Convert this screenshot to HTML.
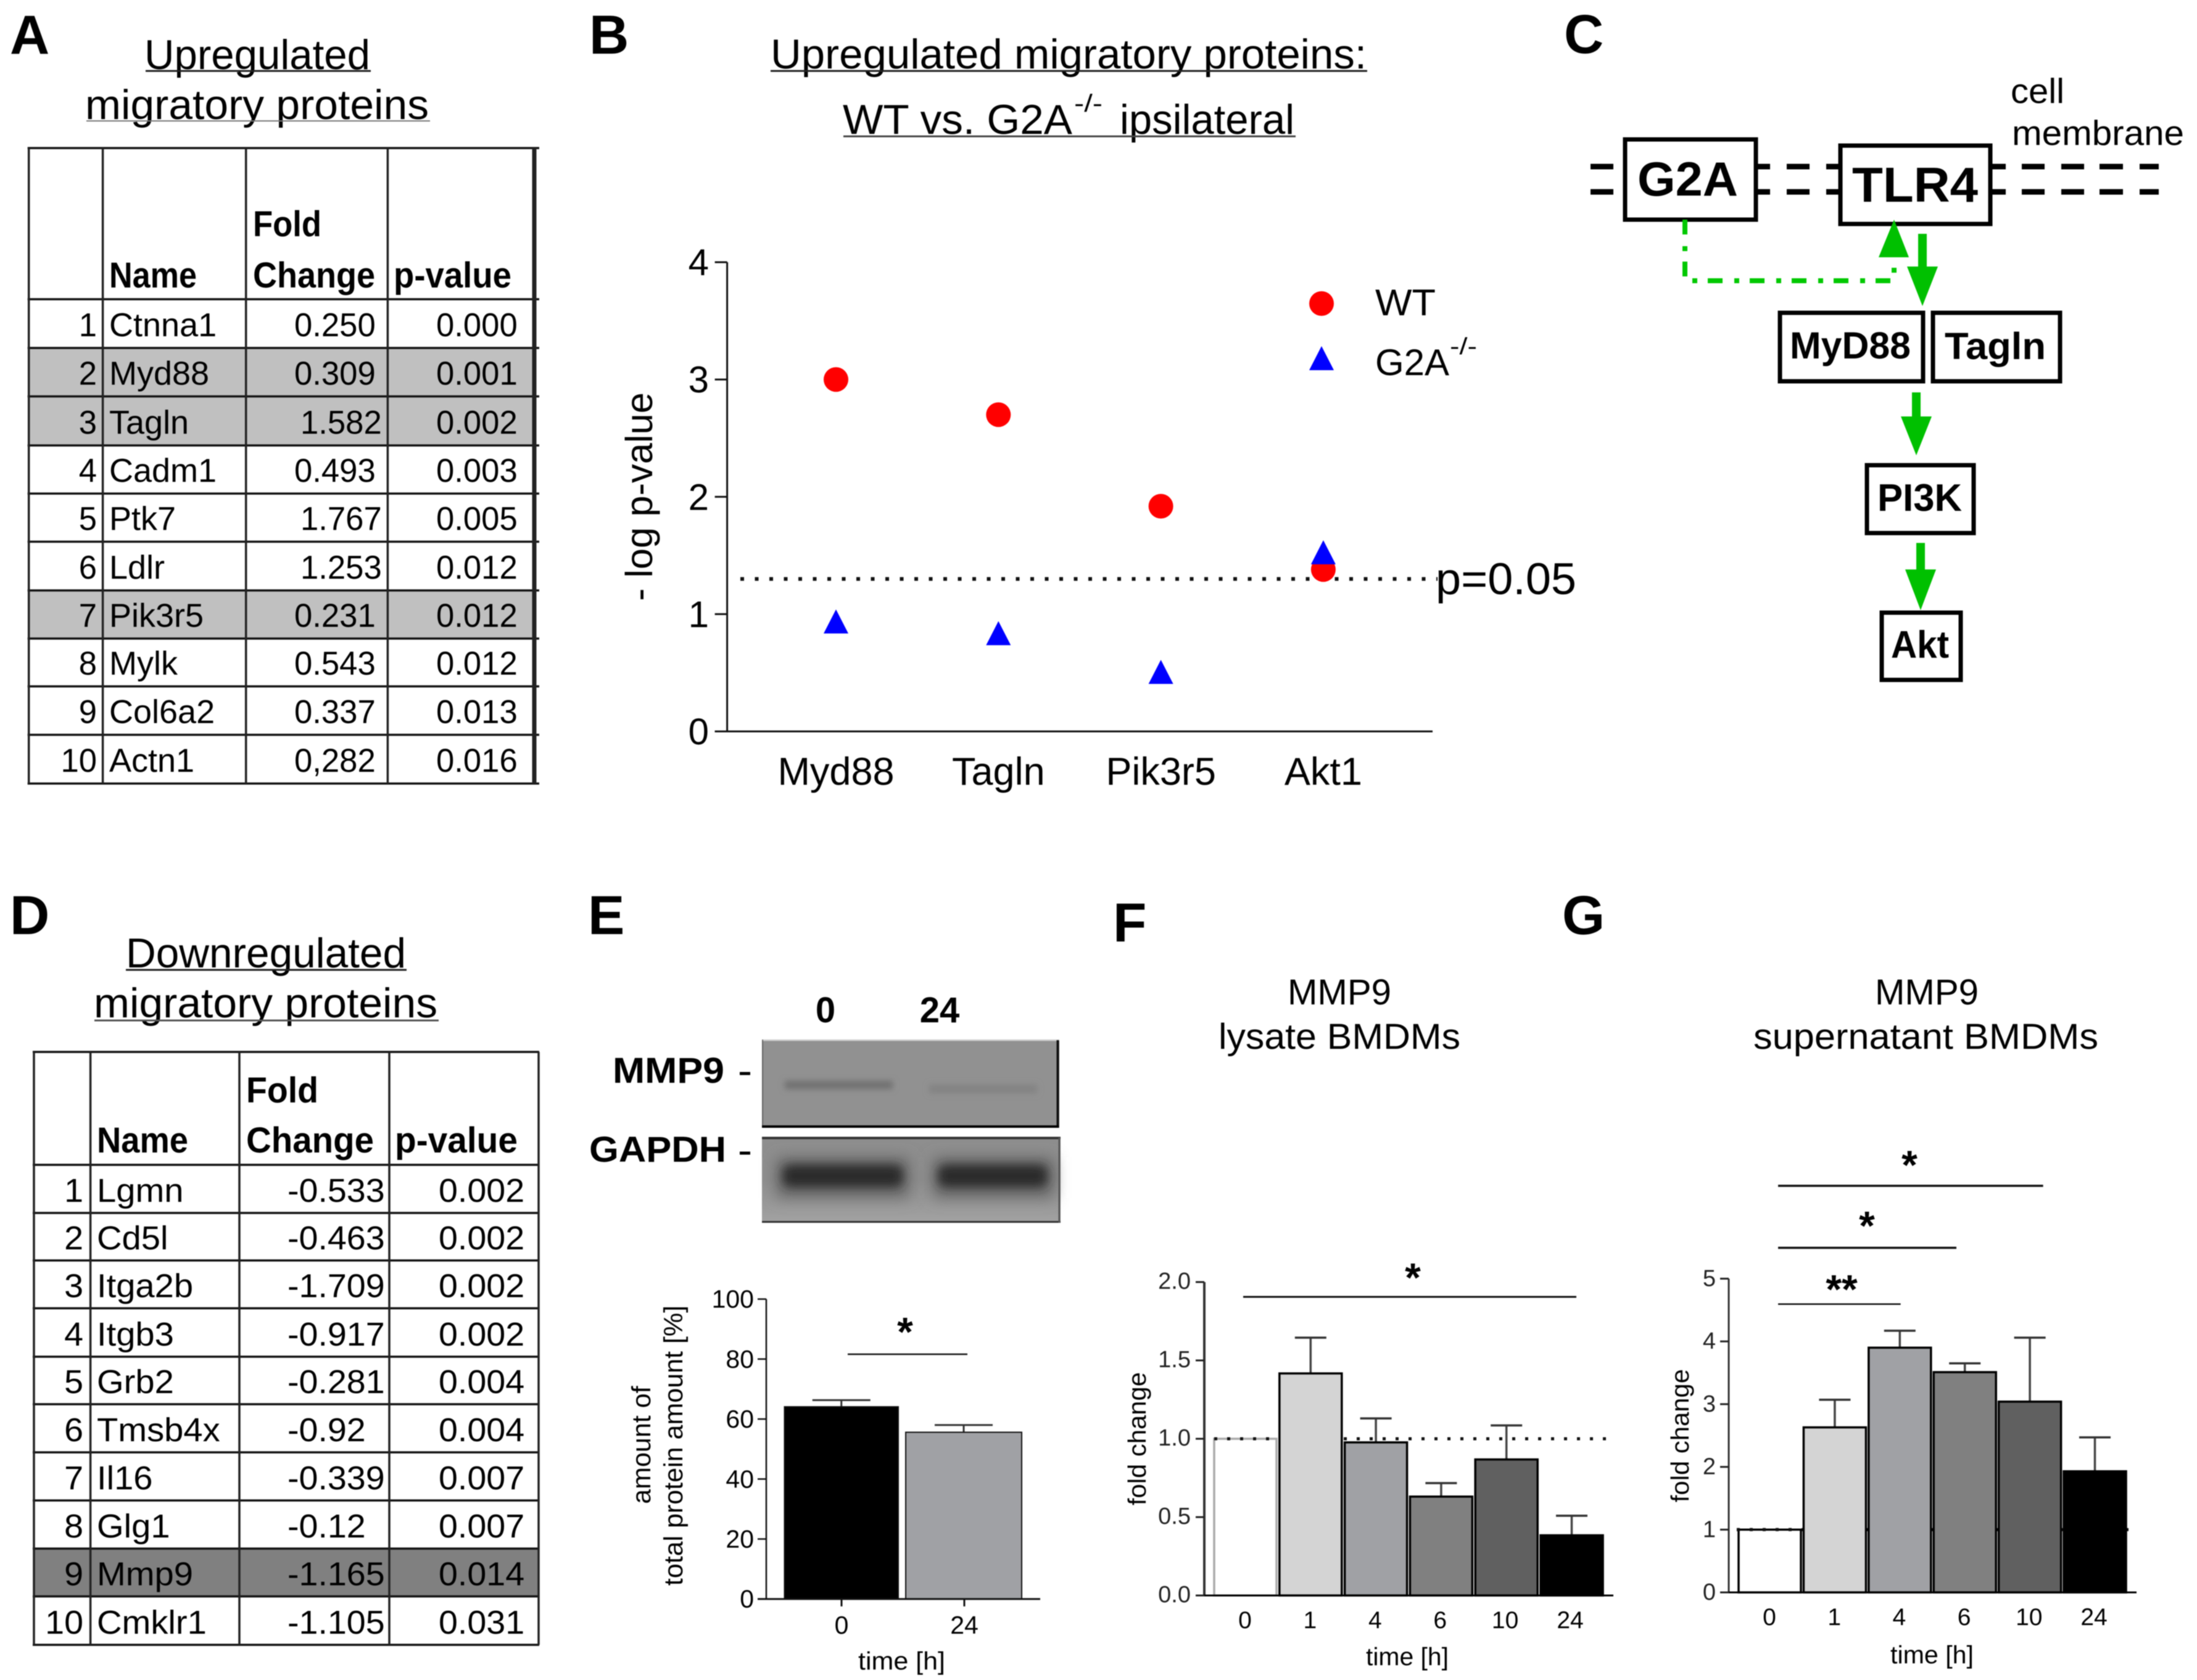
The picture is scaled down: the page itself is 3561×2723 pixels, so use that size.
<!DOCTYPE html>
<html lang="en">
<head>
<meta charset="utf-8">
<title>Migratory proteins figure</title>
<style>
html,body{margin:0;padding:0;background:#fff;width:3561px;height:2723px;overflow:hidden}
svg{display:block;filter:blur(0.8px)}
text{font-family:"Liberation Sans",Arial,sans-serif}
</style>
</head>
<body>
<svg id="fig" xmlns="http://www.w3.org/2000/svg" width="3561" height="2723" viewBox="0 0 3561 2723">
  <defs>
    <filter id="soft-3" x="-20%" y="-200%" width="140%" height="500%"><feGaussianBlur stdDeviation="5"/></filter>
    <filter id="soft-8" x="-20%" y="-100%" width="140%" height="300%"><feGaussianBlur stdDeviation="8"/></filter>
    <filter id="soft-12" x="-20%" y="-100%" width="140%" height="300%"><feGaussianBlur stdDeviation="12"/></filter>
    <linearGradient id="blot-bg-2" x1="0" y1="0" x2="0" y2="1">
      <stop offset="0" stop-color="#8e8e8e"/><stop offset="0.5" stop-color="#8e8e8e"/><stop offset="1" stop-color="#a2a2a2"/>
    </linearGradient>
  </defs>
  <rect width="3561" height="2723" fill="#fff"/>
  <g id="panel-a"></g>
  <g id="panel-b"></g>
  <g id="panel-c"></g>
  <g id="panel-d"></g>
  <g id="panel-e"></g>
  <g id="panel-f"></g>
  <g id="panel-g"></g>
</svg>
<script>
// ---- Table data ----
const tableANames = ['Ctnna1','Myd88','Tagln','Cadm1','Ptk7','Ldlr','Pik3r5','Mylk','Col6a2','Actn1'];
const tableAFold = ['0.250','0.309','1.582','0.493','1.767','1.253','0.231','0.543','0.337','0,282'];
const tableAP = ['0.000','0.001','0.002','0.003','0.005','0.012','0.012','0.012','0.013','0.016'];
const tableAHighlight = [2,3,7];
const tableDNames = ['Lgmn','Cd5l','Itga2b','Itgb3','Grb2','Tmsb4x','Il16','Glg1','Mmp9','Cmklr1'];
const tableDFold = ['-0.533','-0.463','-1.709','-0.917','-0.281','-0.92','-0.339','-0.12','-1.165','-1.105'];
const tableDP = ['0.002','0.002','0.002','0.002','0.004','0.004','0.007','0.007','0.014','0.031'];
const tableDHighlight = [9];

// ---- Panel B data ----
const bCategories = ['Myd88','Tagln','Pik3r5','Akt1'];
const bWT = [3.0,2.7,1.92,1.38];
const bG2A = [0.94,0.84,0.51,1.53];
const bTicks = [0,1,2,3,4];
const bThreshold = 1.3;

// ---- Panel E data ----
const eCategories = ['0','24'];
const eValues = [64.1,55.6];
const eErrorTops = [66.3,58];
const eTicks = [0,20,40,60,80,100];

// ---- Panel F data ----
const fCategories = ['0','1','4','6','10','24'];
const fValues = [1.0,1.417,0.977,0.631,0.868,0.384];
const fErrorTops = [1.0,1.645,1.13,0.717,1.085,0.509];
const fTicks = ['0.0','0.5','1.0','1.5','2.0'];
const fReference = 1.0;

// ---- Panel G data ----
const gCategories = ['0','1','4','6','10','24'];
const gValues = [1.0,2.63,3.9,3.51,3.04,1.93];
const gErrorTops = [1.0,3.07,4.17,3.65,4.06,2.47];
const gTicks = [0,1,2,3,4,5];
const gReference = 1.0;

const NS = 'http://www.w3.org/2000/svg';
const timeFills = ['#ffffff','#d4d4d4','#a0a1a5','#808080','#606060','#000000'];

function el(tag, attrs, name, parent) {
  const node = document.createElementNS(NS, tag);
  for (const k in attrs) node.setAttribute(k, attrs[k]);
  
  
  parent.appendChild(node);
  return node;
}
function txt(parent, name, str, x, y, size, o) {
  o = o || {};
  const n = el('text', {
    'font-size': size,
    'font-weight': o.b ? 'bold' : 'normal',
    'text-anchor': o.a || 'start',
    'fill': o.f || '#000',
    'transform': 'translate(' + x + ' ' + y + ') rotate(' + (o.r || 0) + ') scale(' + (o.sx || 1) + ' 1)'
  }, name, parent);
  if (o.w) {
    n.setAttribute('textLength', o.w);
    n.setAttribute('lengthAdjust', 'spacingAndGlyphs');
  }
  n.textContent = str;
  return n;
}
function line(parent, name, x1, y1, x2, y2, sw, color, dash) {
  const a = { x1: x1, y1: y1, x2: x2, y2: y2, stroke: color || '#000', 'stroke-width': sw };
  if (dash) a['stroke-dasharray'] = dash;
  return el('line', a, name, parent);
}
function star(parent, name, str, cx, cy, size) {
  return txt(parent, name, str, cx, cy + size * 0.48, size, { a: 'middle', b: true });
}

// ---- Tables ----
function drawTable(parent, prefix, xs, ys, names, fold, p, highlight, hiColor, cfg) {
  highlight.forEach(function (r) {
    el('rect', { x: xs[0], y: ys[r], width: xs[4] - xs[0], height: ys[r + 1] - ys[r], fill: hiColor }, prefix + '-highlight-row-' + r, parent);
  });
  ys.forEach(function (y) {
    line(parent, prefix + '-row-rule', xs[0] - 2, y, cfg.ruleEnd, y, 3.5, '#111');
  });
  xs.forEach(function (x, i) {
    line(parent, prefix + '-column-rule', x, ys[0], x, ys[ys.length - 1], i === 4 ? cfg.lastRule : 3.5, '#222');
  });
  txt(parent, prefix + '-header-fold', 'Fold', cfg.foldX, cfg.h1, cfg.hs, { b: true, w: cfg.foldW });
  txt(parent, prefix + '-header-change', 'Change', cfg.foldX, cfg.h2, cfg.hs, { b: true, w: cfg.changeW });
  txt(parent, prefix + '-header-name', 'Name', cfg.nameHX, cfg.h2, cfg.hs, { b: true, w: cfg.nameW });
  txt(parent, prefix + '-header-pvalue', 'p-value', cfg.pHX, cfg.h2, cfg.hs, { b: true, w: cfg.pHW });
  names.forEach(function (nm, i) {
    const by = ys[i + 2] - cfg.baseGap;
    const f = cfg.size;
    txt(parent, prefix + '-row-number-' + (i + 1), String(i + 1), cfg.numX, by, f, { a: 'end', sx: cfg.valSx });
    txt(parent, prefix + '-name-' + nm.toLowerCase(), nm, cfg.nameX, by, f, { sx: cfg.nameSx });
    txt(parent, prefix + '-fold-' + nm.toLowerCase(), fold[i], cfg.valX(fold[i]), by, f, { sx: cfg.valSx });
    txt(parent, prefix + '-pvalue-' + nm.toLowerCase(), p[i], cfg.pX, by, f, { sx: cfg.valSx });
  });
}

// Panel A
(function () {
  const g = document.getElementById('panel-a');
  txt(g, 'panel-label-a', 'A', 16, 87, 89, { b: true });
  txt(g, 'table-a-title-line-1', 'Upregulated', 234, 112, 68, { w: 366 });
  line(g, 'table-a-title-underline-1', 236, 115, 601, 115, 3, '#222');
  txt(g, 'table-a-title-line-2', 'migratory proteins', 138, 193, 68, { w: 557 });
  line(g, 'table-a-title-underline-2', 140, 196, 697, 196, 2, '#777');
  drawTable(g, 'table-a', [46.7, 166.6, 398.7, 628.4, 866],
    [240, 485, 564, 642.5, 722, 800, 878, 957, 1035, 1112.5, 1191, 1270],
    tableANames, tableAFold, tableAP, tableAHighlight, '#c0c0c0', {
      ruleEnd: 874, lastRule: 7, foldX: 410, foldW: 111, changeW: 198, nameHX: 177, nameW: 142, pHX: 638, pHW: 191,
      h1: 383, h2: 466, hs: 58, baseGap: 19, size: 54, valSx: 0.975, nameSx: 1.0, numX: 157, nameX: 177, pX: 707,
      valX: function (v) { return v.charAt(0) === '1' ? 487 : 477; }
    });
})();

// Panel D
(function () {
  const g = document.getElementById('panel-d');
  txt(g, 'panel-label-d', 'D', 16, 1514, 89, { b: true });
  txt(g, 'table-d-title-line-1', 'Downregulated', 204, 1568, 68, { w: 454 });
  line(g, 'table-d-title-underline-1', 204, 1572, 659, 1572, 3, '#222');
  txt(g, 'table-d-title-line-2', 'migratory proteins', 152, 1649, 68, { w: 557 });
  line(g, 'table-d-title-underline-2', 153, 1654, 711, 1654, 3, '#555');
  drawTable(g, 'table-d', [55, 146.6, 388, 631, 873],
    [1705, 1888, 1966, 2043, 2120.5, 2199, 2276, 2354, 2432, 2510, 2587.5, 2666],
    tableDNames, tableDFold, tableDP, tableDHighlight, '#808080', {
      ruleEnd: 874, lastRule: 3.5, foldX: 399, foldW: 117, changeW: 207, nameHX: 157, nameW: 148, pHX: 640, pHW: 199,
      h1: 1787, h2: 1868, hs: 58, baseGap: 18, size: 54, valSx: 1.03, nameSx: 1.04, numX: 135, nameX: 157, pX: 711,
      valX: function () { return 466; }
    });
})();

// Panel B
(function () {
  const g = document.getElementById('panel-b');
  const plot = { left: 1178.6, right: 2322, top: 425, bottom: 1185.5, maxV: 4 };
  const centerStart = 1355, centerStep = 263.3;
  const yB = function (v) { return plot.bottom - (v / plot.maxV) * (plot.bottom - plot.top); };
  const xB = function (i) { return centerStart + i * centerStep; };
  txt(g, 'panel-label-b', 'B', 955, 87, 89, { b: true });
  txt(g, 'chart-title-line-1', 'Upregulated migratory proteins:', 1249, 111, 68, { w: 966 });
  line(g, 'chart-title-underline-1', 1249, 115, 2216, 115, 3, '#222');
  txt(g, 'chart-title-line-2-a', 'WT vs. G2A', 1366, 217, 68, { w: 372 });
  txt(g, 'chart-title-line-2-superscript', '-/-', 1741, 181, 40, { w: 46 });
  txt(g, 'chart-title-line-2-b', 'ipsilateral', 1815, 217, 68, { w: 283 });
  line(g, 'chart-title-underline-2', 1367, 221, 2100, 221, 3, '#444');
  line(g, 'y-axis', plot.left, plot.top, plot.left, plot.bottom, 3, '#111');
  line(g, 'x-axis', plot.left - 20, plot.bottom, plot.right, plot.bottom, 3, '#111');
  bTicks.forEach(function (t) {
    line(g, 'y-tick-' + t, plot.left - 20, yB(t), plot.left, yB(t), 3, '#111');
    txt(g, 'y-tick-label-' + t, String(t), 1149, yB(t) + 21, 60, { a: 'end' });
  });
  bCategories.forEach(function (c, i) {
    txt(g, 'x-tick-label-' + c.toLowerCase(), c, xB(i), 1272, 63, { a: 'middle' });
  });
  txt(g, 'y-axis-title', '- log p-value', 1057, 805, 61, { a: 'middle', r: -90, w: 338 });
  line(g, 'significance-threshold-line', 1200, yB(bThreshold), plot.right + 8, yB(bThreshold), 6, '#111', '6 17.5');
  txt(g, 'threshold-label', 'p=0.05', 2327, 963, 72, { w: 228 });
  const tri = function (name, cx, cy) {
    return el('polygon', {
      points: (cx - 20) + ',' + (cy + 20) + ' ' + (cx + 20) + ',' + (cy + 20) + ' ' + cx + ',' + (cy - 19),
      fill: '#0000ff'
    }, name, g);
  };
  bCategories.forEach(function (c, i) {
    el('circle', { cx: xB(i), cy: yB(bWT[i]), r: 20, fill: '#ff0000' }, 'wt-point-' + c.toLowerCase(), g);
  });
  bCategories.forEach(function (c, i) {
    tri('g2a-point-' + c.toLowerCase(), xB(i), yB(bG2A[i]));
  });
  el('circle', { cx: 2142, cy: 492, r: 20, fill: '#ff0000' }, 'legend-wt-marker', g);
  tri('legend-g2a-marker', 2142, 580);
  txt(g, 'legend-wt-label', 'WT', 2229, 511, 60, { w: 98 });
  txt(g, 'legend-g2a-label', 'G2A', 2229, 608, 60, { w: 120 });
  txt(g, 'legend-g2a-superscript', '-/-', 2350, 574, 38, { w: 44 });
})();

// Panel C
(function () {
  const g = document.getElementById('panel-c');
  const green = '#00c000';
  txt(g, 'panel-label-c', 'C', 2535, 86, 89, { b: true });
  txt(g, 'cell-membrane-label-cell', 'cell', 3259, 167, 57, { w: 87 });
  txt(g, 'cell-membrane-label-membrane', 'membrane', 3261, 235, 57, { w: 279 });
  const segs = [[2578,2615],[2846,2869],[2896,2933],[2960,2983],[3226,3251],[3277,3314],[3341,3378],[3403,3441],[3468,3499]];
  [270, 311].forEach(function (y, k) {
    segs.forEach(function (s) {
      line(g, k === 0 ? 'membrane-outer-dash' : 'membrane-inner-dash', s[0], y, s[1], y, 9, '#000');
    });
  });
  const box = function (name, x1, y1, x2, y2, label, tx, ty, size, w) {
    el('rect', { x: x1, y: y1, width: x2 - x1, height: y2 - y1, fill: '#fff', stroke: '#000', 'stroke-width': 7 }, name + '-box', g);
    txt(g, name + '-label', label, tx, ty, size, { b: true, w: w });
  };
  box('g2a', 2634, 226, 2846, 356, 'G2A', 2654, 317, 78, 163);
  box('tlr4', 2983, 236, 3226, 363, 'TLR4', 3002, 327, 80, 204);
  box('myd88', 2885, 507, 3117, 618, 'MyD88', 2901, 581, 61, 196);
  box('tagln', 3133, 507, 3339, 618, 'Tagln', 3152, 582, 61, 164);
  box('pi3k', 3026, 754, 3199, 864, 'PI3K', 3043, 828, 62, 137);
  box('akt', 3050, 993, 3178, 1102, 'Akt', 3065, 1066, 62, 94);
  el('path', { d: 'M2731 356 V455 H3070 V421', fill: 'none', stroke: '#00c800', 'stroke-width': 8, 'stroke-dasharray': '24 19 8 17' }, 'g2a-to-tlr4-dashed-link', g);
  el('polygon', { points: '3070,356 3045,417 3094,417', fill: green }, 'tlr4-up-arrowhead', g);
  const arrow = function (name, cx, y1, y2, tip, hw) {
    el('rect', { x: cx - 7, y: y1, width: 14, height: y2 - y1, fill: green }, name + '-shaft', g);
    el('polygon', { points: (cx - hw) + ',' + y2 + ' ' + (cx + hw) + ',' + y2 + ' ' + cx + ',' + tip, fill: green }, name + '-head', g);
  };
  arrow('tlr4-to-myd88-arrow', 3116, 379, 432, 496, 25);
  arrow('myd88-to-pi3k-arrow', 3106, 636, 675, 738, 25);
  arrow('pi3k-to-akt-arrow', 3113, 880, 923, 989, 25);
})();

// Panel E
(function () {
  const g = document.getElementById('panel-e');
  txt(g, 'panel-label-e', 'E', 953, 1514, 89, { b: true });
  txt(g, 'blot-lane-label-0', '0', 1338, 1657, 58, { a: 'middle', b: true });
  txt(g, 'blot-lane-label-24', '24', 1523, 1657, 58, { a: 'middle', b: true });
  txt(g, 'blot-label-mmp9', 'MMP9', 993, 1755, 58, { b: true, w: 181 });
  line(g, 'blot-label-mmp9-dash', 1199, 1740, 1216, 1740, 5, '#000');
  txt(g, 'blot-label-gapdh', 'GAPDH', 955, 1883, 58, { b: true, w: 222 });
  line(g, 'blot-label-gapdh-dash', 1199, 1869, 1216, 1869, 5, '#000');
  // MMP9 blot
  el('rect', { x: 1235, y: 1685, width: 482, height: 143, fill: '#919191' }, 'mmp9-blot', g);
  el('rect', { x: 1272, y: 1752, width: 175, height: 13, fill: '#6e6e6e', filter: 'url(#soft-3)' }, 'mmp9-band-0h', g);
  el('rect', { x: 1506, y: 1758, width: 175, height: 14, fill: '#828282', filter: 'url(#soft-3)' }, 'mmp9-band-24h', g);
  line(g, 'mmp9-blot-top-edge', 1235, 1686, 1717, 1686, 2.5, '#cfcfcf');
  line(g, 'mmp9-blot-left-edge', 1236, 1685, 1236, 1826, 1.5, '#555');
  line(g, 'mmp9-blot-right-edge', 1714.5, 1686, 1714.5, 1828, 4, '#111');
  line(g, 'mmp9-blot-bottom-edge', 1235, 1826, 1716, 1826, 4, '#000');
  // GAPDH blot
  el('rect', { x: 1235, y: 1844, width: 484, height: 138, fill: 'url(#blot-bg-2)' }, 'gapdh-blot', g);
  el('rect', { x: 1258, y: 1876, width: 216, height: 66, fill: '#6a6a6a', filter: 'url(#soft-12)' }, 'gapdh-band-0h-halo', g);
  el('rect', { x: 1512, y: 1876, width: 196, height: 66, fill: '#6a6a6a', filter: 'url(#soft-12)' }, 'gapdh-band-24h-halo', g);
  el('rect', { x: 1268, y: 1888, width: 196, height: 36, rx: 14, fill: '#2c2c2c', filter: 'url(#soft-8)' }, 'gapdh-band-0h', g);
  el('rect', { x: 1520, y: 1888, width: 178, height: 36, rx: 14, fill: '#2c2c2c', filter: 'url(#soft-8)' }, 'gapdh-band-24h', g);
  line(g, 'gapdh-blot-top-edge', 1235, 1844.5, 1719, 1844.5, 4, '#333');
  line(g, 'gapdh-blot-bottom-edge', 1235, 1980.5, 1719, 1980.5, 3, '#333');
  line(g, 'gapdh-blot-right-edge', 1717, 1844, 1717, 1982, 3, '#555');

  const plot = { left: 1242, right: 1686, top: 2105.6, bottom: 2591.7, maxV: 100 };
  const yE = function (v) { return plot.bottom - (v / plot.maxV) * (plot.bottom - plot.top); };
  const xE = function (i) { return 1364 + i * 199; };
  const barLeft = [1271.5, 1468], barW = [184.5, 188];
  eCategories.forEach(function (c, i) {
    const cx = xE(i) ;
    const bx = barLeft[i] + barW[i] / 2;
    line(g, 'error-bar-stem-' + c, bx, yE(eErrorTops[i]), bx, yE(eValues[i]), 3, '#333');
    line(g, 'error-bar-cap-' + c, bx - 47, yE(eErrorTops[i]), bx + 47, yE(eErrorTops[i]), 3, '#333');
    el('rect', { x: barLeft[i], y: yE(eValues[i]), width: barW[i], height: plot.bottom - yE(eValues[i]), fill: i === 0 ? '#000' : '#a0a1a5', stroke: '#111', 'stroke-width': 2 }, 'bar-' + c + 'h', g);
    line(g, 'x-tick-' + c, cx, plot.bottom, cx, plot.bottom + 12, 3, '#111');
    txt(g, 'x-tick-label-' + c, c, cx, 2648, 41, { a: 'middle' });
  });
  line(g, 'y-axis', plot.left, plot.top, plot.left, plot.bottom, 2.5, '#111');
  line(g, 'x-axis', plot.left - 14, plot.bottom, plot.right, plot.bottom, 3, '#111');
  eTicks.forEach(function (t) {
    line(g, 'y-tick-' + t, plot.left - 14, yE(t), plot.left, yE(t), 2.5, '#111');
    txt(g, 'y-tick-label-' + t, String(t), 1222, yE(t) + 14, 41, { a: 'end' });
  });
  txt(g, 'x-axis-title', 'time [h]', 1391, 2706, 41, { w: 141 });
  txt(g, 'y-axis-title-line-1', 'amount of', 1054, 2342, 43, { a: 'middle', r: -90 });
  txt(g, 'y-axis-title-line-2', 'total protein amount [%]', 1106, 2343, 43, { a: 'middle', r: -90 });
  line(g, 'significance-bar', 1374, 2195, 1568, 2195, 2.5, '#111');
  star(g, 'significance-star', '*', 1467, 2150, 66);
})();

function drawTimeChart(g, cfg, categories, values, errs, ticks, refValue) {
  const y = function (v) { return cfg.bottom - (v / cfg.maxV) * (cfg.bottom - cfg.top); };
  const xb = function (i) { return cfg.barStart + i * cfg.barStep; };
  line(g, 'reference-dotted-line', cfg.dotStart, y(refValue), cfg.dotEnd, y(refValue), 5, '#111', '5 16');
  categories.forEach(function (c, i) {
    const cx = xb(i) + cfg.barW / 2;
    if (errs[i] > values[i]) {
      line(g, 'error-bar-stem-' + c, cx, y(errs[i]), cx, y(values[i]), 3.5, '#444');
      line(g, 'error-bar-cap-' + c, cx - 25.5, y(errs[i]), cx + 25.5, y(errs[i]), 3.5, '#333');
    }
    el('rect', {
      x: xb(i), y: y(values[i]), width: cfg.barW, height: cfg.bottom - y(values[i]),
      fill: timeFills[i], stroke: (i === 0 && cfg.firstBarLight) ? '#aaa' : '#000', 'stroke-width': 3.5
    }, 'bar-' + c + 'h', g);
    txt(g, 'x-tick-label-' + c, c, cfg.labelStart + i * cfg.labelStep, cfg.labelY, 39, { a: 'middle' });
  });
  // dotted reference stays visible along the top edge of the baseline (0 h) bar
  line(g, 'reference-dotted-line-on-baseline-bar', cfg.dotStart, y(refValue), xb(0) + cfg.barW, y(refValue), 5, '#111', '5 16');
  line(g, 'y-axis', cfg.left, cfg.top, cfg.left, cfg.bottom, cfg.axisW, '#333');
  line(g, 'x-axis', cfg.left - 14, cfg.bottom, cfg.right, cfg.bottom, 3, '#000');
  ticks.forEach(function (t) {
    const v = parseFloat(t);
    line(g, 'y-tick-' + t, cfg.left - 14, y(v), cfg.left, y(v), 3, '#222');
    txt(g, 'y-tick-label-' + t, t, cfg.tickLabelX, y(v) + cfg.tickLabelDy, 38, { a: 'end', f: '#222' });
  });
  return y;
}

// Panel F
(function () {
  const g = document.getElementById('panel-f');
  txt(g, 'panel-label-f', 'F', 1804, 1526, 89, { b: true });
  txt(g, 'chart-title-line-1', 'MMP9', 2087, 1628, 58, { w: 168 });
  txt(g, 'chart-title-line-2', 'lysate BMDMs', 1975, 1700, 58, { w: 392 });
  drawTimeChart(g, {
    left: 1952, right: 2615, top: 2078, bottom: 2586, maxV: 2,
    barStart: 1968, barStep: 105.8, barW: 101, dotStart: 1968, dotEnd: 2611,
    labelStart: 2018, labelStep: 105.4, labelY: 2639, axisW: 4, tickLabelX: 1930, tickLabelDy: 11, firstBarLight: true
  }, fCategories, fValues, fErrorTops, fTicks, fReference);
  txt(g, 'x-axis-title', 'time [h]', 2214, 2699, 41, { w: 134 });
  txt(g, 'y-axis-title', 'fold change', 1857, 2332, 41, { a: 'middle', r: -90, w: 216 });
  line(g, 'significance-bar', 2015, 2102, 2555, 2102, 3, '#111');
  star(g, 'significance-star', '*', 2290, 2062, 66);
})();

// Panel G
(function () {
  const g = document.getElementById('panel-g');
  txt(g, 'panel-label-g', 'G', 2532, 1514, 89, { b: true });
  txt(g, 'chart-title-line-1', 'MMP9', 3039, 1628, 58, { w: 168 });
  txt(g, 'chart-title-line-2', 'supernatant BMDMs', 2842, 1700, 58, { w: 559 });
  drawTimeChart(g, {
    left: 2802, right: 3463, top: 2072.5, bottom: 2581, maxV: 5,
    barStart: 2818, barStep: 105.4, barW: 101, dotStart: 2815, dotEnd: 3460,
    labelStart: 2868, labelStep: 105.2, labelY: 2634, axisW: 3, tickLabelX: 2781, tickLabelDy: 12, firstBarLight: false
  }, gCategories, gValues, gErrorTops, gTicks.map(String), gReference);
  txt(g, 'x-axis-title', 'time [h]', 3064, 2696, 41, { w: 135 });
  txt(g, 'y-axis-title', 'fold change', 2737, 2327, 41, { a: 'middle', r: -90, w: 216 });
  line(g, 'significance-bar-0-vs-4', 2882, 2113.7, 3080.6, 2113.7, 2.5, '#111');
  line(g, 'significance-bar-0-vs-6', 2882, 2022.5, 3171, 2022.5, 3.5, '#111');
  line(g, 'significance-bar-0-vs-10', 2882, 1922, 3311.6, 1922, 3.5, '#111');
  star(g, 'significance-stars-0-vs-4', '**', 2985, 2081, 66);
  star(g, 'significance-star-0-vs-6', '*', 3026, 1978, 66);
  star(g, 'significance-star-0-vs-10', '*', 3095, 1879.5, 66);
})();
</script>
</body>
</html>
